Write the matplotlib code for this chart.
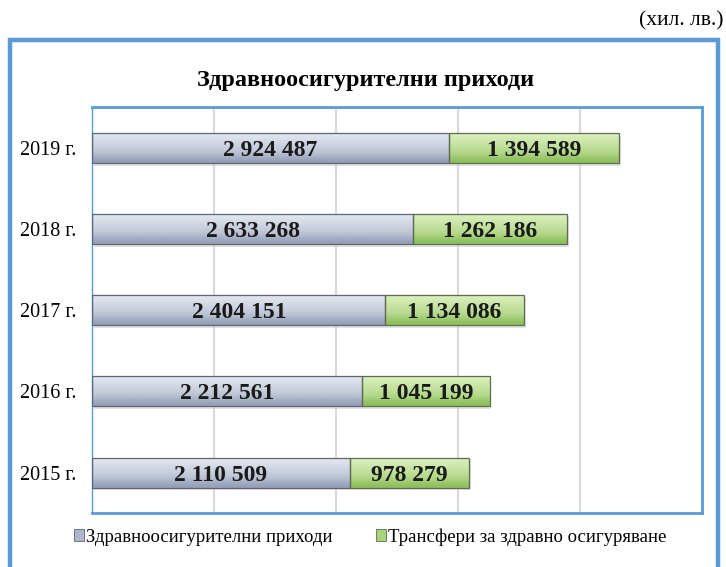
### Health insurance revenues - stacked horizontal bars ###
import numpy as np
import matplotlib.pyplot as plt
from matplotlib.colors import LinearSegmentedColormap
from matplotlib.patches import Rectangle, Patch

### Data ###
years = ['2015 г.', '2016 г.', '2017 г.', '2018 г.', '2019 г.']
revenues = [2110509, 2212561, 2404151, 2633268, 2924487]   # Здравноосигурителни приходи
transfers = [978279, 1045199, 1134086, 1262186, 1394589]   # Трансфери за здравно осигуряване
series_names = ['Здравноосигурителни приходи', 'Трансфери за здравно осигуряване']

title = 'Здравноосигурителни приходи'
unit_note = '(хил. лв.)'

# colours: (bottom, top) for the gradient fill
blue_grad = ('#949FB8', '#E6EAF2')
green_grad = ('#8CBF5A', '#DDF2C0')

plt.rcParams['font.family'] = ['Liberation Serif', 'DejaVu Serif']

fig = plt.figure(figsize=(7.26, 5.67), dpi=100)
ax = fig.add_axes([0.127, 0.095, 0.840, 0.716])

def fmt(v):
    return f'{v:,}'.replace(',', ' ')

def gradient_bars(bars, colors):
    cmap = LinearSegmentedColormap.from_list('g', [colors[0], colors[1]])
    grad = np.array([0.0, 0.45, 0.62, 0.78, 0.95]).reshape(-1, 1)
    for b in bars:
        x0, y0 = b.get_x(), b.get_y()
        w, h = b.get_width(), b.get_height()
        im = ax.imshow(grad, extent=[x0, x0 + w, y0, y0 + h], origin='lower',
                       aspect='auto', cmap=cmap, vmin=0, vmax=1,
                       interpolation='bicubic', zorder=2)
        im.set_clip_path(b)

y = np.arange(len(years))
bar_h = 0.37
totals = [r + t for r, t in zip(revenues, transfers)]
# soft shadow under the bars
ax.barh(y - 0.035, totals, left=15000, height=bar_h, color='#BFBFBF', alpha=0.45,
        lw=0, zorder=1)
b1 = ax.barh(y, revenues, height=bar_h, color='none', edgecolor='#5F6570', lw=0.9, zorder=3)
b2 = ax.barh(y, transfers, left=revenues, height=bar_h, color='none',
             edgecolor='#5F6B52', lw=0.9, zorder=3)
gradient_bars(b1, blue_grad)
gradient_bars(b2, green_grad)

# value labels in the middle of each segment
for i in range(len(years)):
    ax.text(revenues[i] / 2, y[i], fmt(revenues[i]), ha='center', va='center_baseline',
            fontsize=17, fontweight='bold', color='#1A1A1A', zorder=4)
    ax.text(revenues[i] + transfers[i] / 2, y[i], fmt(transfers[i]), ha='center',
            va='center_baseline', fontsize=17, fontweight='bold', color='#1A1A1A', zorder=4)

ax.set_xlim(0, 5000000)
ax.set_ylim(-0.5, len(years) - 0.5)
ax.set_xticks(np.arange(0, 5000001, 1000000))
ax.xaxis.grid(True, color='#D9D9D9', lw=1.5, zorder=0)
ax.set_axisbelow(True)
ax.tick_params(axis='x', bottom=False, labelbottom=False)
ax.tick_params(axis='y', left=False, labelsize=14.5, pad=8)
ax.set_yticks(y)
ax.set_yticklabels(years)
for s in ax.spines.values():
    s.set_color('#5B9BD5')
    s.set_linewidth(2)
ax.spines['left'].set_linewidth(1)

# outer blue frame
fig.patches.append(Rectangle((0.014, -0.02), 0.975, 0.949, transform=fig.transFigure,
                             fill=False, edgecolor='#5B9BD5', lw=3.2))

fig.text(0.503, 0.858, title, ha='center', va='center', fontsize=17.5, fontweight='bold')
fig.text(0.997, 0.963, unit_note, ha='right', va='center', fontsize=15.5)

handles = [Patch(facecolor='#AEB7CC', edgecolor='#5F6570', lw=0.6, label=series_names[0]),
           Patch(facecolor='#A7D47A', edgecolor='#5F6B52', lw=0.6, label=series_names[1])]
fig.legend(handles=handles, loc='center', bbox_to_anchor=(0.51, 0.053), ncol=2,
           frameon=False, fontsize=13.5, handlelength=0.55, handleheight=0.55,
           handletextpad=0.1, columnspacing=2.3)

plt.savefig('out.png', dpi=100)
